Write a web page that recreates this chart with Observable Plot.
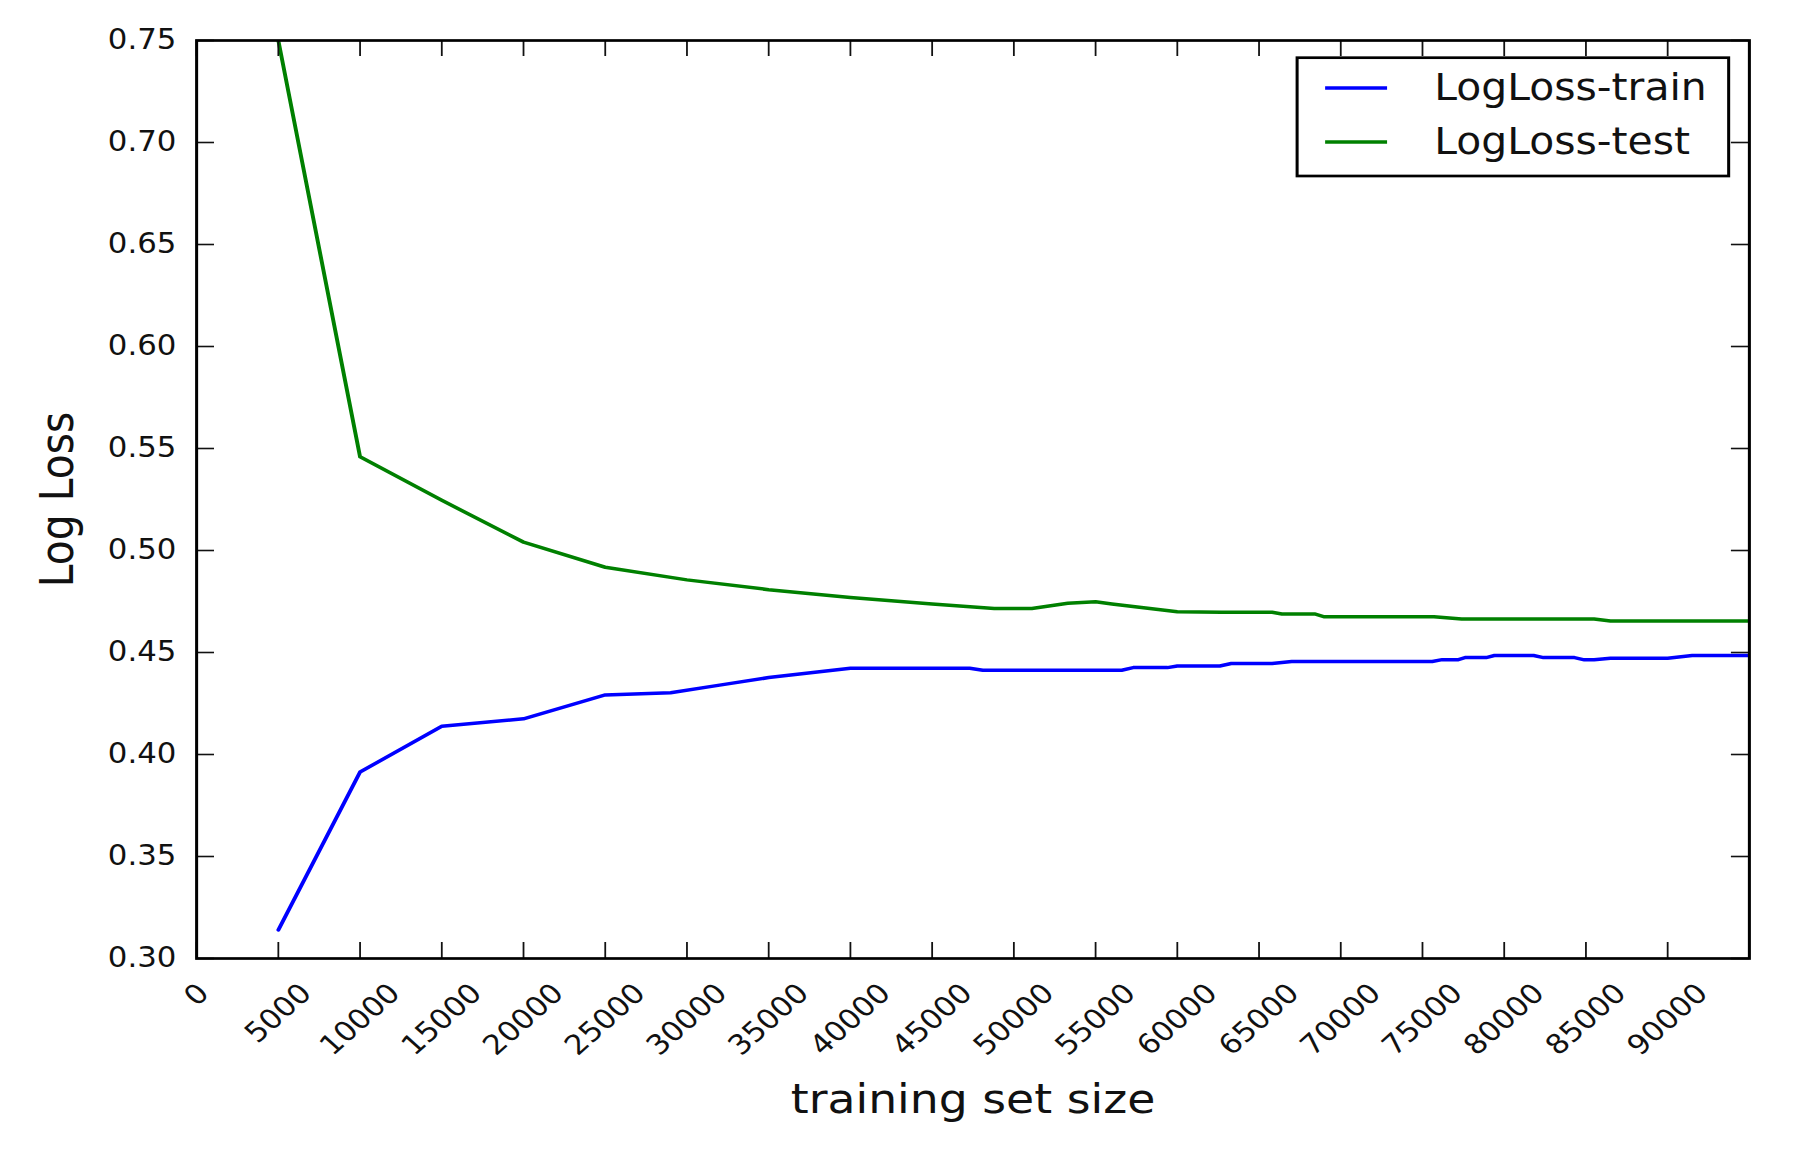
<!DOCTYPE html>
<html>
<head>
<meta charset="utf-8">
<script src="https://cdn.jsdelivr.net/npm/d3@7"></script>
<script src="https://cdn.jsdelivr.net/npm/@observablehq/plot@0.6"></script>
<style>
  html, body { margin: 0; padding: 0; background: #fff; }
  #chart svg { display: block; }
</style>
</head>
<body>
<div id="chart"></div>
<script>
// ---- data ----
const trainSize = [5000, 10000, 15000, 20000, 25000, 29000, 32000, 35000, 40000, 47300, 48100, 56600, 57300, 59400, 60000, 62600, 63300, 65800, 67000, 75600, 76200, 77200, 77600, 78900, 79400, 81800, 82400, 84300, 84900, 85500, 86500, 90000, 91500, 95000];
const trainLoss = [0.314, 0.3914, 0.4139, 0.4175, 0.4292, 0.4303, 0.4340, 0.4377, 0.4423, 0.4423, 0.4413, 0.4413, 0.4426, 0.4426, 0.4434, 0.4434, 0.4446, 0.4446, 0.4456, 0.4456, 0.4465, 0.4465, 0.4475, 0.4475, 0.4485, 0.4485, 0.4475, 0.4475, 0.4464, 0.4464, 0.4472, 0.4472, 0.4485, 0.4485];

const testSize = [5000, 10000, 15000, 20000, 25000, 30000, 35000, 40000, 45000, 48800, 51100, 53300, 55000, 56000, 60000, 62700, 65800, 66400, 68400, 69000, 75700, 77400, 85500, 86500, 95000];
const testLoss = [0.75, 0.5459, 0.5246, 0.5041, 0.4918, 0.4856, 0.4808, 0.4770, 0.4738, 0.4716, 0.4716, 0.4741, 0.4749, 0.4738, 0.4700, 0.4697, 0.4697, 0.4689, 0.4689, 0.4675, 0.4675, 0.4664, 0.4664, 0.4654, 0.4654];

const xTicks = [0, 5000, 10000, 15000, 20000, 25000, 30000, 35000, 40000, 45000, 50000, 55000, 60000, 65000, 70000, 75000, 80000, 85000, 90000];
const yTicks = [0.30, 0.35, 0.40, 0.45, 0.50, 0.55, 0.60, 0.65, 0.70, 0.75];

const seriesNames = ["LogLoss-train", "LogLoss-test"];
const seriesColors = ["#0000ff", "#008000"];
const xLabel = "training set size";
const yLabel = "Log Loss";

// ---- build tables ----
const train = trainSize.map((s, i) => ({size: s, loss: trainLoss[i]}));
const test = testSize.map((s, i) => ({size: s, loss: testLoss[i]}));

// ---- layout (drawn in a narrower box, then stretched horizontally like the reference) ----
const OUT_W = 1797, H = 1153;
const STRETCH = 1.1203;
const W = Math.round(OUT_W / STRETCH);
const mL = 175, mR = 43, mT = 40, mB = 195;
const innerW = W - mL - mR, innerH = H - mT - mB;
const tickLen = 16;
const tickFS = 27.5, labelFS = 40.8, legendFS = 36.5;
const FONT = "DejaVu Sans";
const LINE_W = 3.5;

const tickStyle = {stroke: "#111", strokeWidth: 1.6};

const xTickLabelMarks = xTicks.map(t => {
  const label = String(t);
  const w = label.length * 0.636 * tickFS;
  const off = 23 + (w + 0.73 * tickFS) / (2 * Math.SQRT2);
  return Plot.text([t], {
    x: d => d, text: d => String(d), frameAnchor: "bottom",
    rotate: -45, textAnchor: "middle", lineAnchor: "middle",
    dy: off, fontSize: tickFS, fill: "#111"
  });
});

const chart = Plot.plot({
  width: W, height: H,
  marginLeft: mL, marginRight: mR, marginTop: mT, marginBottom: mB,
  x: {domain: [0, 95000], axis: null},
  y: {domain: [0.30, 0.75], axis: null},
  style: {fontFamily: FONT, background: "white", color: "black", overflow: "visible"},
  marks: [
    Plot.line(train, {x: "size", y: "loss", stroke: seriesColors[0], strokeWidth: LINE_W, clip: true}),
    Plot.line(test, {x: "size", y: "loss", stroke: seriesColors[1], strokeWidth: LINE_W, clip: true}),
    // inward ticks on all four sides
    Plot.tickX(xTicks, {x: d => d, insetTop: innerH - tickLen, ...tickStyle}),
    Plot.tickX(xTicks, {x: d => d, insetBottom: innerH - tickLen, ...tickStyle}),
    Plot.tickY(yTicks, {y: d => d, insetRight: innerW - tickLen, ...tickStyle}),
    Plot.tickY(yTicks, {y: d => d, insetLeft: innerW - tickLen, ...tickStyle}),
    Plot.frame({stroke: "black", strokeWidth: 2.7}),
    // y tick labels
    Plot.text(yTicks, {y: d => d, text: d => d.toFixed(2), frameAnchor: "left", dx: -18,
      textAnchor: "end", lineAnchor: "middle", fontSize: tickFS, fill: "#111"}),
    // x tick labels (rotated, bbox centred on tick)
    ...xTickLabelMarks,
    // axis titles
    Plot.text([xLabel], {text: d => d, frameAnchor: "bottom", dy: 154, lineAnchor: "bottom",
      textAnchor: "middle", fontSize: labelFS, fill: "#111"}),
    Plot.text([yLabel], {text: d => d, frameAnchor: "left", dx: -110, rotate: -90,
      lineAnchor: "bottom", textAnchor: "middle", fontSize: labelFS, fill: "#111"})
  ]
});

// ---- legend (upper right, inside the axes) ----
const svg = d3.select(chart);
const lgRight = W - mR - 18, lgTop = mT + 17.7;
const lgW = 385.2, lgH = 118.3;
const lgLeft = lgRight - lgW;
const lg = svg.append("g").attr("class", "legend").attr("text-anchor", "start");
lg.append("rect")
  .attr("x", lgLeft).attr("y", lgTop).attr("width", lgW).attr("height", lgH)
  .attr("fill", "white").attr("stroke", "black").attr("stroke-width", 2.7);
const rowY = [lgTop + 30.3, lgTop + 84.3];
seriesNames.forEach((name, i) => {
  lg.append("line")
    .attr("x1", lgLeft + 25).attr("x2", lgLeft + 80.3)
    .attr("y1", rowY[i]).attr("y2", rowY[i])
    .attr("stroke", seriesColors[i]).attr("stroke-width", LINE_W);
  lg.append("text")
    .attr("x", lgLeft + 122.3).attr("y", rowY[i] + 12.5)
    .attr("text-anchor", "start")
    .attr("font-family", FONT).attr("font-size", legendFS).attr("fill", "#111")
    .text(name);
});

// stretch horizontally to the output size
chart.setAttribute("viewBox", `0 0 ${W} ${H}`);
chart.setAttribute("preserveAspectRatio", "none");
chart.setAttribute("width", OUT_W);
chart.setAttribute("height", H);
chart.style.width = OUT_W + "px";
chart.style.height = H + "px";
chart.style.maxWidth = "none";

document.getElementById("chart").appendChild(chart);
</script>
</body>
</html>
